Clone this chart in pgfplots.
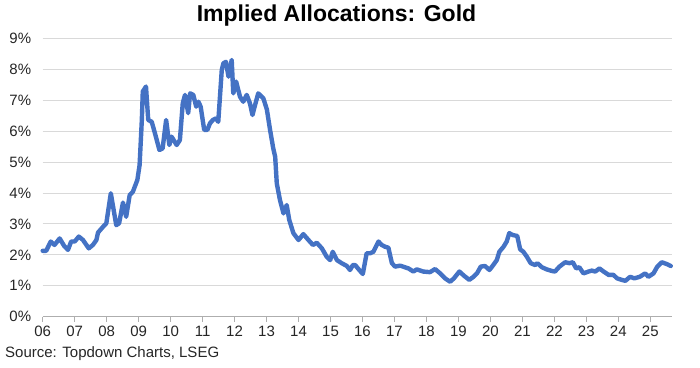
\documentclass[border=0pt]{standalone}
\usepackage{fontspec}
\setmainfont{Liberation Sans}
\usepackage{pgfplots}
\pgfplotsset{compat=1.18}
\definecolor{lineblue}{RGB}{68,114,196}
\definecolor{gridgray}{RGB}{217,217,217}
\begin{document}
\begin{tikzpicture}[x=1pt,y=1pt]
\useasboundingbox (0,0) rectangle (700,367);
\begin{axis}[
  at={(42.7pt,50.3pt)}, anchor=south west,
  scale only axis, width=629pt, height=278.4pt,
  xmin=2006, xmax=2025.67, ymin=0, ymax=9,
  xtick={2006,2007,2008,2009,2010,2011,2012,2013,2014,2015,2016,2017,2018,2019,2020,2021,2022,2023,2024,2025},
  xticklabels={06,07,08,09,10,11,12,13,14,15,16,17,18,19,20,21,22,23,24,25},
  ytick={0,1,2,3,4,5,6,7,8,9},
  yticklabel={\pgfmathprintnumber{\tick}\%},
  /pgf/number format/assume math mode=true,
  axis x line*=bottom, axis y line*=left,
  y axis line style={draw=none},
  x axis line style={draw=gridgray!80!black, line width=0.9pt, -},
  ytick style={draw=none},
  xtick style={draw=gridgray!80!black, line width=0.9pt},
  tick align=outside, major tick length=5pt,
  ymajorgrids, grid style={gridgray, line width=0.9pt},
  ticklabel style={font=\fontsize{15}{18}\selectfont, text=black!85},
  yticklabel style={xshift=-3pt},
  xticklabel style={yshift=-1pt},
  clip=false,
]
\addplot[lineblue, line width=4.4pt, line join=round, line cap=round] coordinates {
(2006.00,2.13)(2006.11,2.13)(2006.25,2.43)(2006.37,2.32)(2006.53,2.53)(2006.67,2.29)(2006.79,2.16)(2006.89,2.43)
(2007.00,2.43)(2007.13,2.59)(2007.26,2.48)(2007.44,2.21)(2007.57,2.32)(2007.68,2.48)(2007.73,2.72)(2007.89,2.91)
(2007.99,3.02)(2008.13,3.99)(2008.30,2.96)(2008.39,3.02)(2008.51,3.69)(2008.61,3.23)(2008.72,3.93)(2008.82,4.04)
(2008.96,4.42)(2009.03,4.90)(2009.10,6.36)(2009.13,7.28)(2009.23,7.44)(2009.30,6.36)(2009.41,6.30)(2009.51,5.93)
(2009.65,5.39)(2009.75,5.44)(2009.86,6.36)(2009.96,5.55)(2010.03,5.82)(2010.19,5.55)(2010.29,5.71)(2010.38,6.90)
(2010.45,7.17)(2010.55,6.58)(2010.61,7.22)(2010.71,7.17)(2010.80,6.79)(2010.87,6.95)(2010.94,6.79)(2011.05,6.04)
(2011.15,6.04)(2011.23,6.25)(2011.32,6.36)(2011.42,6.41)(2011.49,6.30)(2011.60,7.98)(2011.65,8.19)(2011.73,8.24)
(2011.81,7.76)(2011.91,8.30)(2011.96,7.22)(2012.05,7.60)(2012.17,7.11)(2012.27,6.95)(2012.38,7.17)(2012.48,6.90)
(2012.56,6.52)(2012.64,6.84)(2012.74,7.22)(2012.90,7.06)(2013.01,6.70)(2013.11,6.04)(2013.21,5.44)(2013.27,5.17)
(2013.32,4.31)(2013.42,3.77)(2013.53,3.34)(2013.63,3.61)(2013.71,3.13)(2013.84,2.70)(2014.00,2.48)(2014.15,2.67)
(2014.31,2.48)(2014.45,2.32)(2014.57,2.39)(2014.73,2.21)(2014.88,1.94)(2014.99,1.83)(2015.07,2.10)(2015.20,1.83)
(2015.35,1.73)(2015.51,1.64)(2015.61,1.51)(2015.70,1.67)(2015.77,1.67)(2015.90,1.51)(2016.01,1.38)(2016.13,2.05)
(2016.24,2.05)(2016.34,2.10)(2016.50,2.43)(2016.60,2.32)(2016.71,2.26)(2016.81,2.23)(2016.92,1.73)(2017.02,1.62)
(2017.18,1.65)(2017.44,1.56)(2017.59,1.46)(2017.70,1.53)(2017.90,1.46)(2018.11,1.44)(2018.27,1.54)(2018.43,1.40)
(2018.58,1.24)(2018.74,1.13)(2018.86,1.24)(2019.03,1.46)(2019.18,1.32)(2019.34,1.19)(2019.47,1.29)(2019.58,1.40)
(2019.70,1.62)(2019.83,1.64)(2019.97,1.51)(2020.09,1.67)(2020.20,1.83)(2020.28,2.10)(2020.41,2.26)(2020.51,2.43)
(2020.59,2.70)(2020.70,2.64)(2020.84,2.61)(2020.93,2.18)(2021.03,2.10)(2021.14,1.94)(2021.26,1.73)(2021.40,1.67)
(2021.47,1.73)(2021.61,1.60)(2021.76,1.53)(2021.92,1.48)(2022.02,1.46)(2022.16,1.62)(2022.34,1.76)(2022.47,1.73)
(2022.58,1.76)(2022.68,1.56)(2022.78,1.60)(2022.91,1.40)(2023.07,1.46)(2023.17,1.49)(2023.28,1.46)(2023.41,1.56)
(2023.54,1.46)(2023.70,1.35)(2023.85,1.35)(2023.96,1.24)(2024.11,1.19)(2024.22,1.16)(2024.37,1.29)(2024.50,1.24)
(2024.67,1.29)(2024.84,1.40)(2024.94,1.29)(2025.10,1.40)(2025.22,1.62)(2025.36,1.76)(2025.52,1.70)(2025.64,1.64)
};
\end{axis}
\node[font=\bfseries\fontsize{23}{27}\selectfont, anchor=center] at (336.5,351) {Implied Allocations: Gold};
\node[font=\fontsize{15}{18}\selectfont, anchor=west, inner sep=0pt, text=black!85] at (5,13.5) {Source: Topdown Charts, LSEG};
\end{tikzpicture}
\end{document}
